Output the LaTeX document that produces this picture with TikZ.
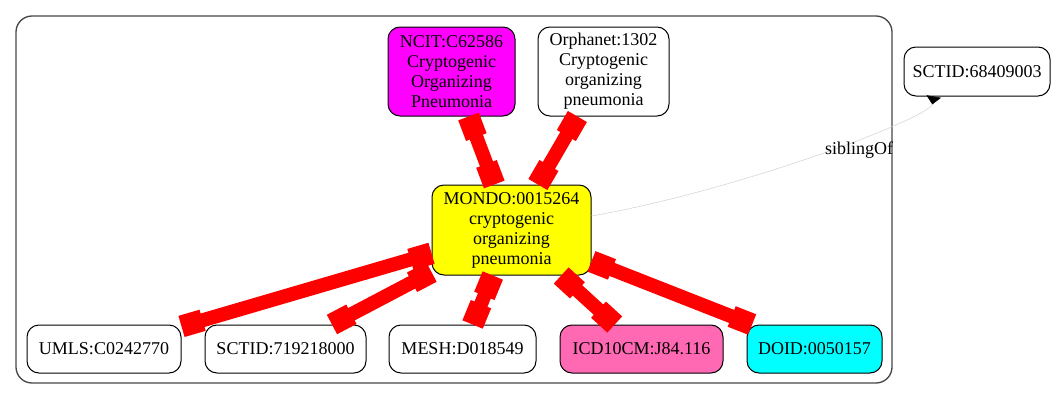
\documentclass[tikz,border=0pt]{standalone}
\usepackage{fontspec}
\setmainfont{Liberation Serif}
\usetikzlibrary{arrows.meta}

\tikzset{every picture/.style={line width=0.75pt}}
\tikzset{
  term/.style={draw, rounded corners=9pt, align=center, inner sep=0pt, minimum height=36pt, font=\fontsize{13.5}{15}\selectfont},
  bigterm/.style={term, minimum height=66.75pt},
  xref/.style={draw={rgb, 255:red, 255; green, 0; blue, 0}, line width=10.5pt, {Rectangle[length=16.5pt,width=16.5pt]}-{Rectangle[length=16.5pt,width=16.5pt]}},
  sibling/.style={draw={rgb, 255:red, 211; green, 211; blue, 211}, line width=0.4pt, -{Triangle[reversed,length=6pt,width=11pt,color=black]}}
}

\begin{document}
\begin{tikzpicture}[x=0.75pt,y=0.75pt,yscale=-1,xscale=1]
\useasboundingbox (0,0) rectangle (1061,400);

%Shape: Cluster
\draw [color={rgb, 255:red, 70; green, 70; blue, 70 }, line width=1pt, rounded corners=12pt] (16,16) rectangle (892,383) ;

% Text Node
\node [bigterm, fill={rgb, 255:red, 255; green, 0; blue, 255 }, minimum width=95.25pt] (ncit) at (451.5,71.5) {NCIT:C62586\\Cryptogenic\\Organizing\\Pneumonia};
% Text Node
\node [bigterm, minimum width=98.25pt] (orpha) at (603.5,71.5) {Orphanet:1302\\Cryptogenic\\organizing\\pneumonia};
% Text Node
\node [bigterm, fill={rgb, 255:red, 255; green, 255; blue, 0 }, minimum width=119.25pt, minimum height=67.5pt] (mondo) at (511.5,230) {MONDO:0015264\\cryptogenic\\organizing\\pneumonia};
% Text Node
\node [term, minimum width=109.5pt, minimum height=36.75pt] (sctsib) at (977,71.5) {SCTID:68409003};
% Text Node
\node [term, minimum width=115.5pt] (umls) at (104,349) {UMLS:C0242770};
% Text Node
\node [term, minimum width=120.75pt] (sctid) at (285.5,349) {SCTID:719218000};
% Text Node
\node [term, minimum width=110.25pt] (mesh) at (462.5,349) {MESH:D018549};
% Text Node
\node [term, fill={rgb, 255:red, 255; green, 105; blue, 180 }, minimum width=122.25pt] (icd) at (641.5,349) {ICD10CM:J84.116};
% Text Node
\node [term, fill={rgb, 255:red, 0; green, 255; blue, 255 }, minimum width=101.25pt] (doid) at (814.5,349) {DOID:0050157};

%Straight Lines
\draw [xref] (ncit) -- (mondo) ;
\draw [xref] (orpha) -- (mondo) ;
\draw [xref] (umls) -- (mondo) ;
\draw [xref] (sctid) -- (mondo) ;
\draw [xref] (mesh) -- (mondo) ;
\draw [xref] (icd) -- (mondo) ;
\draw [xref] (doid) -- (mondo) ;

%Curve Lines
\draw [sibling] (mondo) .. controls (740,190) and (930,118) .. (sctsib.-150) ;
% Text Node
\node [font=\fontsize{13.5}{15}\selectfont, inner sep=0.75pt] (siblbl) at (859,150) {siblingOf};

\end{tikzpicture}
\end{document}
